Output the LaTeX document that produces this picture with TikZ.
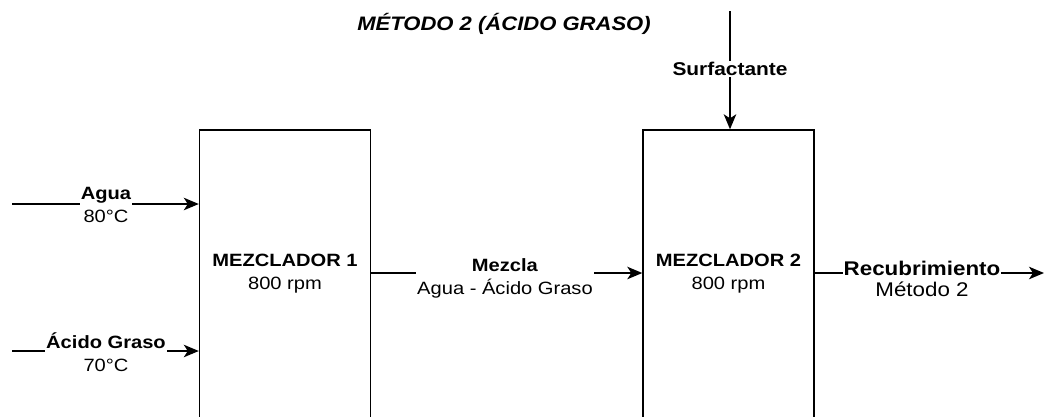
\documentclass[tikz,border=0pt]{standalone}
\usepackage{fontspec}
\setmainfont[FakeStretch=1.13]{Liberation Sans}
\usetikzlibrary{arrows.meta}

\begin{document}
\begin{tikzpicture}[x=1pt,y=-1pt,
  txt/.style={font=\fontsize{17.8}{23}\selectfont},
  unit/.style={txt, draw, line width=1.4pt, minimum width=171pt,
    minimum height=288pt, inner sep=0pt, align=center},
  flow/.style={line width=1.4pt, -{Stealth[length=15pt,width=12.5pt,inset=4pt]}},
  lbl/.style={txt, fill=white, inner sep=1pt, align=center}]
  \clip (0,0) rectangle (1045,416);
  \useasboundingbox (0,0) rectangle (1045,416);

  % title
  \node[font=\fontsize{19.5}{23}\selectfont\bfseries\itshape] (title) at (504,24)
    {MÉTODO 2 (ÁCIDO GRASO)};

  % mixers (they run past the lower edge)
  \node[unit] (m1) at (285,274) {\textbf{MEZCLADOR 1}\\800 rpm};
  \node[unit] (m2) at (728.5,274) {\textbf{MEZCLADOR 2}\\800 rpm};

  % free ends of the streams
  \coordinate (agua) at (12,204);
  \coordinate (acido) at (12,351);
  \coordinate (surf) at (730,11);
  \coordinate (out) at (1044,273);

  % streams
  \draw[flow] (agua) -- (agua -| m1.west);
  \draw[flow] (acido) -- (acido -| m1.west);
  \draw[flow] (m1.east |- 0,273) -- (m2.west |- 0,273);
  \draw[flow] (surf) -- (surf |- m2.north);
  \draw[flow] (m2.east |- out) -- (out);

  % stream labels
  \node[lbl] (lagua) at (106,205) {\textbf{Agua}\\80°C};
  \node[lbl] (lacido) at (106,352) {\textbf{Ácido Graso}\\70°C};
  \node[lbl] (lmezcla) at (505,278) {\textbf{Mezcla}\\Agua - Ácido Graso};
  \node[lbl, font=\fontsize{18.5}{23}\selectfont] (lsurf) at (730,69) {\textbf{Surfactante}};
  \node[lbl, font=\fontsize{19.8}{21.5}\selectfont] (lrecub) at (922,279)
    {\textbf{Recubrimiento}\\Método 2};
\end{tikzpicture}
\end{document}
